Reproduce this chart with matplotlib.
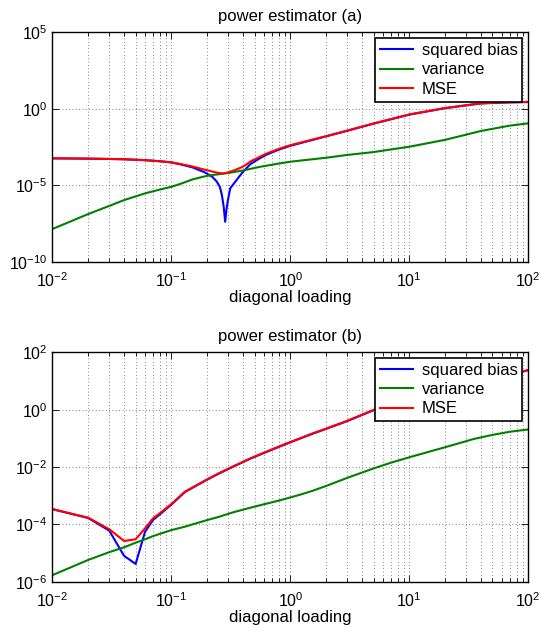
import numpy as np
import matplotlib
matplotlib.use("Agg")
import matplotlib.pyplot as plt
from matplotlib.ticker import LogLocator, NullFormatter, NullLocator, FixedLocator

plt.rcParams["font.family"] = ["Liberation Sans", "DejaVu Sans"]
plt.rcParams["mathtext.fontset"] = "custom"
plt.rcParams["mathtext.rm"] = "Liberation Sans"
plt.rcParams["mathtext.it"] = "Liberation Sans:italic"
plt.rcParams["font.size"] = 11

load_a = [0.01, 0.02, 0.03, 0.04, 0.06, 0.08, 0.1, 0.12, 0.15, 0.19, 0.22, 0.24,
          0.255, 0.265, 0.275, 0.283, 0.29, 0.298, 0.312, 0.344, 0.39, 0.42, 0.46,
          0.55, 0.63, 0.8, 1, 2, 3, 5, 10, 20, 40, 70, 100]
bias_a = [-3.24, -3.26, -3.28, -3.30, -3.36, -3.43, -3.51, -3.64, -3.83, -4.15, -4.44, -4.75,
          -5.10, -5.60, -6.40, -7.39, -6.60, -6.00, -5.20, -4.77, -4.22, -3.95, -3.62,
          -3.25, -3.00, -2.67, -2.42, -1.80, -1.44, -0.97, -0.38, 0.04, 0.35, 0.42, 0.44]
var_a = [-7.86, -6.88, -6.35, -5.97, -5.53, -5.28, -5.10, -4.90, -4.62, -4.42, -4.33, -4.30,
         -4.27, -4.25, -4.24, -4.22, -4.21, -4.20, -4.18, -4.12, -4.05, -4.00, -3.93,
         -3.80, -3.72, -3.58, -3.46, -3.20, -3.02, -2.83, -2.48, -2.03, -1.45, -1.10, -0.95]
mse_a = [-3.24, -3.26, -3.28, -3.30, -3.36, -3.43, -3.50, -3.62, -3.77, -3.98, -4.10, -4.17,
         -4.21, -4.22, -4.22, -4.21, -4.19, -4.16, -4.11, -4.00, -3.82, -3.68, -3.45,
         -3.15, -2.93, -2.62, -2.38, -1.79, -1.43, -0.96, -0.37, 0.05, 0.36, 0.43, 0.45]

load_b = [0.01, 0.02, 0.03, 0.04, 0.05, 0.06, 0.07, 0.08, 0.1, 0.13, 0.2, 0.25,
          0.33, 0.46, 0.6, 0.82, 1.2, 1.56, 2, 3, 5, 7, 10, 20, 35, 50, 70, 100]
bias_b = [-3.47, -3.78, -4.22, -5.10, -5.38, -4.26, -3.85, -3.65, -3.31, -2.87, -2.44, -2.23,
          -1.99, -1.71, -1.51, -1.28, -1.01, -0.83, -0.67, -0.40, -0.02, 0.14, 0.32, 0.67,
          0.89, 1.07, 1.21, 1.38]
var_b = [-5.77, -5.24, -4.97, -4.80, -4.64, -4.52, -4.41, -4.33, -4.20, -4.08, -3.85, -3.74,
         -3.58, -3.42, -3.30, -3.16, -2.97, -2.82, -2.66, -2.38, -2.05, -1.85, -1.66, -1.31,
         -1.02, -0.88, -0.77, -0.69]
mse_b = [-3.47, -3.77, -4.17, -4.58, -4.52, -4.14, -3.79, -3.61, -3.29, -2.86, -2.43, -2.22,
         -1.98, -1.70, -1.50, -1.27, -1.00, -0.82, -0.66, -0.39, -0.01, 0.15, 0.33, 0.68,
         0.90, 1.08, 1.22, 1.38]

yticks_a = [1e-10, 1e-5, 1e0, 1e5]
yticks_b = [1e-6, 1e-4, 1e-2, 1e0, 1e2]

panels = [
    ("power estimator (a)", load_a, bias_a, var_a, mse_a, yticks_a),
    ("power estimator (b)", load_b, bias_b, var_b, mse_b, yticks_b),
]

fig = plt.figure(figsize=(5.4, 6.34), dpi=100)
rects = [[0.0972, 0.5872, 0.8811, 0.3618], [0.0972, 0.0825, 0.8811, 0.3618]]

for rect, (title, x, bias, var, mse, yt) in zip(rects, panels):
    ax = fig.add_axes(rect)
    ax.plot(x, np.power(10.0, bias), color=(0, 0, 1), lw=1.5, label="squared bias")
    ax.plot(x, np.power(10.0, var), color=(0, 0.5, 0), lw=1.5, label="variance")
    ax.plot(x, np.power(10.0, mse), color=(1, 0, 0), lw=1.5, label="MSE")

    ax.set_xscale("log")
    ax.set_yscale("log")
    ax.set_xlim(1e-2, 1e2)
    ax.set_ylim(yt[0], yt[-1])
    ax.yaxis.set_major_locator(FixedLocator(yt))
    ax.yaxis.set_minor_locator(NullLocator())
    ax.xaxis.set_major_locator(LogLocator(base=10))
    ax.xaxis.set_minor_locator(LogLocator(base=10, subs=range(2, 10)))
    ax.xaxis.set_minor_formatter(NullFormatter())

    ax.tick_params(which="both", direction="in", top=True, right=True, width=0.6)
    ax.tick_params(which="major", length=5, labelsize=11.5)
    ax.tick_params(axis="x", which="major", pad=7)
    ax.tick_params(which="minor", length=3)
    for s in ax.spines.values():
        s.set_linewidth(1.0)

    ax.grid(True, which="major", ls=(0, (1, 3)), color="0.35", lw=0.6)
    ax.grid(True, which="minor", axis="x", ls=(0, (1, 3)), color="0.35", lw=0.6)

    ax.set_title(title, fontsize=12, pad=8)
    ax.set_xlabel("diagonal loading", fontsize=12, labelpad=0)

    leg = ax.legend(loc="upper right", fontsize=12, fancybox=False, framealpha=1,
                    edgecolor="black", borderaxespad=0.35, handlelength=2.0,
                    labelspacing=0.25, borderpad=0.3, handletextpad=0.5)
    leg.get_frame().set_linewidth(1.2)

fig.savefig("out.png", dpi=100)
